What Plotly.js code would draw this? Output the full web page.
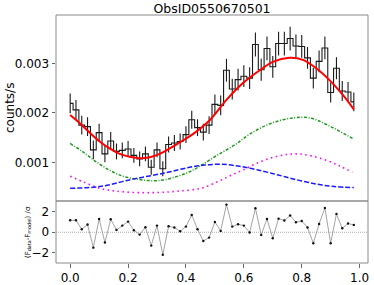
<!DOCTYPE html>
<html>
<head>
<meta charset="utf-8">
<script src="https://cdn.plot.ly/plotly-3.0.1.min.js"></script>
<style>html,body{margin:0;padding:0;background:#fff;}#chart{width:374px;height:285px;}</style>
</head>
<body>
<div id="chart"></div>
<script>
// Phase bins (centres)
const phase = [0.00,0.02,0.04,0.06,0.08,0.10,0.12,0.14,0.16,0.18,
               0.20,0.22,0.24,0.26,0.28,0.30,0.32,0.34,0.36,0.38,
               0.40,0.42,0.44,0.46,0.48,0.50,0.52,0.54,0.56,0.58,
               0.60,0.62,0.64,0.66,0.68,0.70,0.72,0.74,0.76,0.78,
               0.80,0.82,0.84,0.86,0.88,0.90,0.92,0.94,0.96,0.98];
// Observed count rate (counts/s)
const rate = [0.00219,0.00206,0.00175,0.00172,0.00125,0.00160,0.00117,0.00143,0.00122,0.00124,
              0.00127,0.00114,0.00107,0.00117,0.00090,0.00125,0.00087,0.00136,0.00139,0.00142,
              0.00156,0.00186,0.00170,0.00161,0.00175,0.00217,0.00215,0.00286,0.00248,0.00267,
              0.00274,0.00270,0.00338,0.00287,0.00330,0.00293,0.00340,0.00340,0.00350,0.00335,
              0.00334,0.00311,0.00270,0.00304,0.00331,0.00241,0.00290,0.00244,0.00242,0.00222];
// 1-sigma errors
const rateErr = [0.00020,0.00020,0.00019,0.00019,0.00019,0.00018,0.00017,0.00018,0.00016,0.00016,
                 0.00016,0.00015,0.00015,0.00015,0.00015,0.00015,0.00015,0.00016,0.00016,0.00016,
                 0.00017,0.00018,0.00017,0.00017,0.00018,0.00020,0.00020,0.00023,0.00021,0.00022,
                 0.00022,0.00022,0.00024,0.00022,0.00024,0.00022,0.00024,0.00024,0.00024,0.00023,
                 0.00023,0.00022,0.00021,0.00022,0.00023,0.00020,0.00022,0.00020,0.00020,0.00019];
// Residuals (F_data - F_model)/sigma
const resid = [1.17,1.17,0.29,0.75,-1.50,1.30,-1.00,1.27,0.23,0.65,
               1.04,0.20,-0.23,0.49,-1.30,0.65,-2.20,0.59,0.46,0.10,
               0.55,1.69,0.29,-0.85,-0.52,1.00,0.13,2.70,0.55,0.78,
               0.65,-0.03,2.34,-0.26,1.30,-0.59,1.33,1.14,1.63,0.98,
               1.10,0.46,-1.07,0.81,2.37,-1.07,1.79,0.39,0.85,0.72];

// Total model (red)
const totPhase = [0,0.033,0.067,0.102,0.136,0.171,0.205,0.24,0.275,0.309,0.344,0.378,0.424,0.482,0.54,0.597,0.655,0.70,0.758,0.804,0.85,0.896,0.942,0.98];
const totModel = [0.001955,0.00179,0.0016,0.00142,0.00128,0.00117,0.00111,0.00108,0.0011,0.00117,0.00128,0.0014,0.00157,0.00185,0.00226,0.0026,0.00286,0.00303,0.00311,0.00307,0.0029,0.00266,0.00236,0.00207];
// Component 1 (green dash-dot)
const c1Phase = [0,0.044,0.09,0.136,0.182,0.229,0.275,0.32,0.367,0.413,0.453,0.51,0.568,0.626,0.695,0.775,0.833,0.89,0.98];
const c1Model = [0.00138,0.00121,0.00101,0.00084,0.00072,0.00066,0.00063,0.00064,0.00071,0.00081,0.00094,0.00115,0.00135,0.00159,0.00179,0.0019,0.00189,0.00175,0.00147];
// Component 2 (magenta dotted)
const c2Phase = [0,0.051,0.102,0.148,0.205,0.263,0.32,0.378,0.453,0.51,0.557,0.603,0.649,0.706,0.752,0.787,0.833,0.89,0.937,0.975];
const c2Model = [0.00072,0.00059,0.000475,0.000426,0.000394,0.000386,0.000394,0.00042,0.000475,0.00061,0.00074,0.00086,0.00099,0.00111,0.00116,0.00117,0.00113,0.00103,0.00091,0.0008];
// Component 3 (blue dashed)
const c3Phase = [0,0.102,0.217,0.332,0.413,0.465,0.522,0.58,0.649,0.718,0.787,0.856,0.913,0.98];
const c3Model = [0.000475,0.00051,0.00066,0.00079,0.0009,0.000945,0.00096,0.000925,0.000845,0.000745,0.00064,0.000555,0.00051,0.00049];

const titleText = "ObsID0550670501";
const xTicks = [0.0,0.2,0.4,0.6,0.8,1.0];
const yMainTicks = [0.001,0.002,0.003];
const yResTicks = [-2,0,2];

const FONT = "DejaVu Sans, Liberation Sans, sans-serif";

const traces = [
  {x: phase, y: rate, xaxis:'x2', yaxis:'y2', type:'scatter', mode:'lines',
   line:{shape:'hvh', color:'#1a1a1a', width:1.1},
   error_y:{type:'data', array: rateErr, visible:true, color:'#1a1a1a', thickness:1.1, width:0},
   hoverinfo:'skip', showlegend:false},
  {x: c1Phase, y: c1Model, xaxis:'x2', yaxis:'y2', type:'scatter', mode:'lines',
   line:{shape:'spline', smoothing:1, color:'#1f9a1f', width:1.5, dash:'3px,1.6px,1px,1.6px'}, showlegend:false},
  {x: c2Phase, y: c2Model, xaxis:'x2', yaxis:'y2', type:'scatter', mode:'lines',
   line:{shape:'spline', smoothing:1, color:'#ff00ff', width:1.6, dash:'1.5px,3.5px'}, showlegend:false},
  {x: c3Phase, y: c3Model, xaxis:'x2', yaxis:'y2', type:'scatter', mode:'lines',
   line:{shape:'spline', smoothing:1, color:'#1a1aff', width:1.5, dash:'5px,2px'}, showlegend:false},
  {x: totPhase, y: totModel, xaxis:'x2', yaxis:'y2', type:'scatter', mode:'lines',
   line:{shape:'spline', smoothing:1, color:'#ff0000', width:2}, showlegend:false},
  {x: phase, y: resid, xaxis:'x', yaxis:'y', type:'scatter', mode:'lines+markers',
   line:{color:'#8c8c8c', width:0.8}, marker:{color:'#111', size:2.4}, showlegend:false}
];

const axCommon = {
  showgrid:false, zeroline:false, showline:false,
  ticks:'outside', ticklen:3.5, tickwidth:1, tickcolor:'#666',
  tickfont:{family:FONT, size:12, color:'#000'}
};

const layout = {
  width:374, height:285,
  margin:{l:56, r:6, t:15, b:22, pad:0},
  paper_bgcolor:'#fff', plot_bgcolor:'#fff',
  font:{family:FONT, color:'#000'},
  title:{text:titleText, font:{family:FONT, size:12.5, color:'#000'},
         x:0.5, xref:'paper', xanchor:'center', y:1-9/285, yref:'container', yanchor:'middle'},
  xaxis: Object.assign({}, axCommon, {domain:[0,1], anchor:'y', range:[-0.049,1.029],
         tickvals:xTicks, tickformat:'.1f'}),
  xaxis2: Object.assign({}, axCommon, {domain:[0,1], anchor:'y2', matches:'x', range:[-0.049,1.029],
         showticklabels:false, ticks:''}),
  yaxis: Object.assign({}, axCommon, {domain:[0,0.25], anchor:'x', range:[-3,3.05],
         tickvals:yResTicks}),
  yaxis2: Object.assign({}, axCommon, {domain:[0.25,1], anchor:'x2', range:[0.000218,0.003976],
         tickvals:yMainTicks, tickformat:'.3f'}),
  shapes:[
    {type:'line', xref:'paper', yref:'y', x0:0, x1:1, y0:0, y1:0,
     line:{color:'#999', width:0.8, dash:'1px,1px'}, layer:'below'},
    {type:'rect', xref:'paper', yref:'paper', x0:0, x1:1, y0:0.25, y1:1,
     line:{color:'#8a8a8a', width:1}},
    {type:'rect', xref:'paper', yref:'paper', x0:0, x1:1, y0:0, y1:0.25,
     line:{color:'#8a8a8a', width:1}}
  ],
  annotations:[
    {text:'counts/s', xref:'paper', yref:'paper', x:(10-56)/312, y:0.625,
     xanchor:'center', yanchor:'middle', textangle:-90, showarrow:false,
     font:{family:FONT, size:12, color:'#000'}},
    {text:'(F<sub>data</sub>-F<sub>model</sub>) /σ', xref:'paper', yref:'paper', x:(28-56)/312, y:0.125,
     xanchor:'center', yanchor:'middle', textangle:-90, showarrow:false,
     font:{family:FONT, size:7, color:'#000'}}
  ]
};

Plotly.newPlot('chart', traces, layout, {staticPlot:true, displayModeBar:false});
</script>
</body>
</html>
